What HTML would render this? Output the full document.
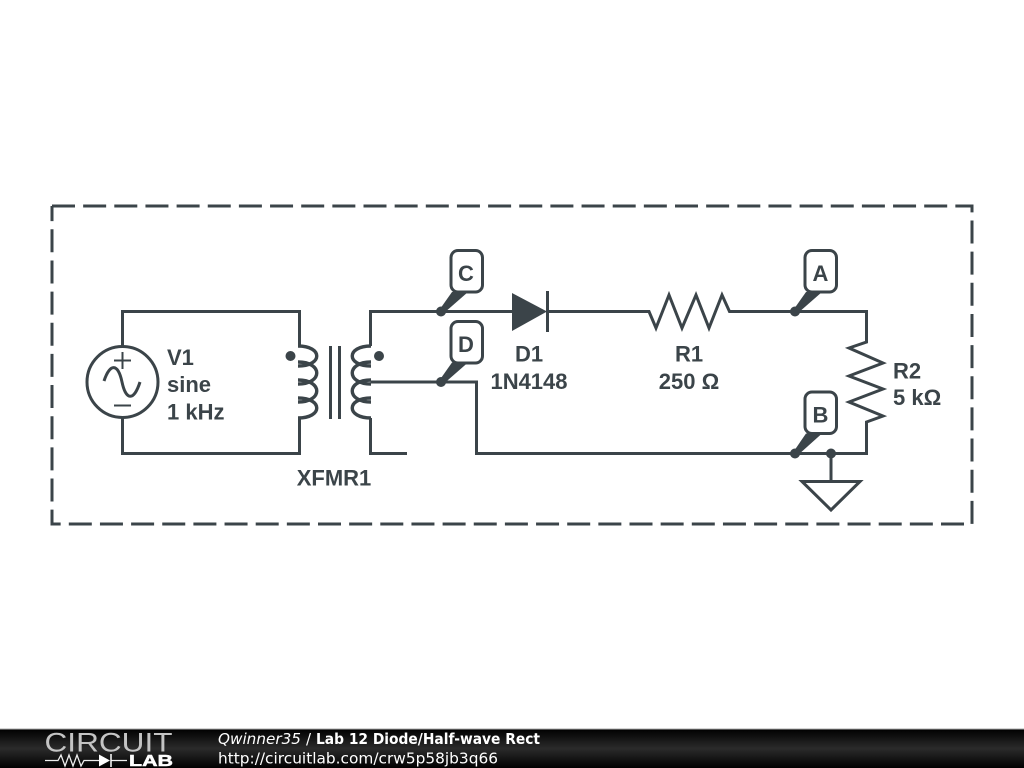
<!DOCTYPE html>
<html>
<head>
<meta charset="utf-8">
<style>
html,body{margin:0;padding:0;background:#fff;}
svg{display:block;}
</style>
</head>
<body>
<svg xmlns="http://www.w3.org/2000/svg" width="1024" height="768" viewBox="0 0 1024 768">
<defs>
<linearGradient id="bar" x1="0" y1="0" x2="0" y2="1">
<stop offset="0" stop-color="#000"/>
<stop offset="0.5" stop-color="#2b2b2b"/>
<stop offset="1" stop-color="#000"/>
</linearGradient>
</defs>
<rect width="1024" height="768" fill="#fff"/>
<g fill="none" stroke="#3b4449" stroke-width="3" stroke-linejoin="miter">
<!-- dashed frame -->
<path d="M52 206H972V524H52V206" stroke-dasharray="23 8.15"/>
<!-- wires -->
<path d="M122.500 346V311.500H299.500V346"/>
<path d="M122.500 418V453.500H299.500V418"/>
<path d="M370.500 346V311.500H512"/>
<path d="M370.500 418V453.500H407"/>
<path d="M370.500 382H476.500V453.500H866.500V422L883 416L849 402L883 389L849 376L883 363L849 348L866.500 342V311.500H729.500L722 295L709 328L696 295L682 328L669 295L656 328L649 311.500H547"/>
<path d="M831 453.500V481"/>
<path d="M802 481.500H860L831 510Z"/>
<!-- source -->
<circle cx="122.500" cy="382" r="35.500"/>
<path d="M104 381C110 363 118 363 122 382C126 401 134 401 140 382"/>
<path d="M114 360.500H131M122.500 352V369M114 405.500H131" stroke-width="2"/>
<!-- transformer -->
<path stroke-width="3.400" d="M298 346C323 346 323 366 298 366M298 362C323 362 323 384 298 384M298 380C323 380 323 402 298 402M298 398C323 398 323 418 298 418"/>
<path stroke-width="3.400" d="M371 346C346 346 346 366 371 366M371 362C346 362 346 384 371 384M371 380C346 380 346 402 371 402M371 398C346 398 346 418 371 418"/>
<path d="M330.500 346V419M339.500 346V419"/>
<!-- diode bar -->
<path d="M547.500 291V332"/>
<!-- probe boxes -->
<rect x="451" y="250.500" width="31.500" height="41.500" rx="7" fill="#fff"/>
<rect x="451" y="321.500" width="31.500" height="41.500" rx="7" fill="#fff"/>
<rect x="805" y="250.500" width="31.500" height="41.500" rx="7" fill="#fff"/>
<rect x="805" y="392" width="31.500" height="41.500" rx="7" fill="#fff"/>
</g>
<g fill="#3b4449">
<circle cx="290.500" cy="356" r="5"/>
<circle cx="379" cy="356" r="5"/>
<path d="M512 293L547 311.500L512 331Z"/>
<!-- probes -->
<circle cx="441" cy="311.500" r="5"/><path d="M440 309L452 292H468L444 313Z"/>
<circle cx="441" cy="382" r="5"/><path d="M440 379.500L452 362.500H468L444 383.500Z"/>
<circle cx="795" cy="311.500" r="5"/><path d="M794 309L806 292H822L798 313Z"/>
<circle cx="795" cy="453.500" r="5"/><path d="M794 451L806 433.500H822L798 455Z"/>
<circle cx="831" cy="453.500" r="5"/>
</g>
<g font-family="'Liberation Sans',sans-serif" font-weight="bold" font-size="22" fill="#3b4449">
<text x="167" y="365">V1</text>
<text x="167" y="392">sine</text>
<text x="167" y="419.500">1 kHz</text>
<text x="529" y="361.500" text-anchor="middle">D1</text>
<text x="529" y="389" text-anchor="middle">1N4148</text>
<text x="689" y="361.500" text-anchor="middle">R1</text>
<text x="689" y="389" text-anchor="middle">250 Ω</text>
<text x="893" y="378.500">R2</text>
<text x="893" y="405">5 kΩ</text>
<text x="334" y="485.500" text-anchor="middle">XFMR1</text>
<text x="466" y="281" text-anchor="middle">C</text>
<text x="466" y="352" text-anchor="middle">D</text>
<text x="820.500" y="281" text-anchor="middle">A</text>
<text x="820.500" y="422.500" text-anchor="middle">B</text>
</g>
<!-- footer -->
<rect x="0" y="729" width="1024" height="39" fill="url(#bar)"/>
<rect x="0" y="728.500" width="1024" height="1" fill="#aaa"/>
<text x="44.500" y="751.500" font-family="'Liberation Sans',sans-serif" font-size="26.500" fill="#c4c4c4" textLength="128" lengthAdjust="spacingAndGlyphs">CIRCUIT</text>
<path d="M45 760.500H58L61 755L65 766L69 755L73 766L77 755L81 766L84 760.500H100M111 760.500H127" fill="none" stroke="#eee" stroke-width="1.300"/>
<path d="M99 754.500L110 760.500L99 766.500Z" fill="#fff"/>
<path d="M111 754V767" stroke="#fff" stroke-width="1.500"/>
<text x="129" y="766" font-family="'Liberation Sans',sans-serif" font-weight="bold" font-size="15.500" fill="#fff" stroke="#fff" stroke-width="0.500" textLength="44" lengthAdjust="spacingAndGlyphs">LAB</text>
<g font-family="'DejaVu Sans',sans-serif" font-size="15" fill="#fff">
<text x="218" y="744" font-style="italic" textLength="83" lengthAdjust="spacingAndGlyphs">Qwinner35</text>
<text x="306" y="744">/</text>
<text x="316" y="744" font-weight="bold" textLength="224" lengthAdjust="spacingAndGlyphs">Lab 12 Diode/Half-wave Rect</text>
<text x="218" y="763.500" textLength="280" lengthAdjust="spacingAndGlyphs">http://circuitlab.com/crw5p58jb3q66</text>
</g>
</svg>
</body>
</html>
